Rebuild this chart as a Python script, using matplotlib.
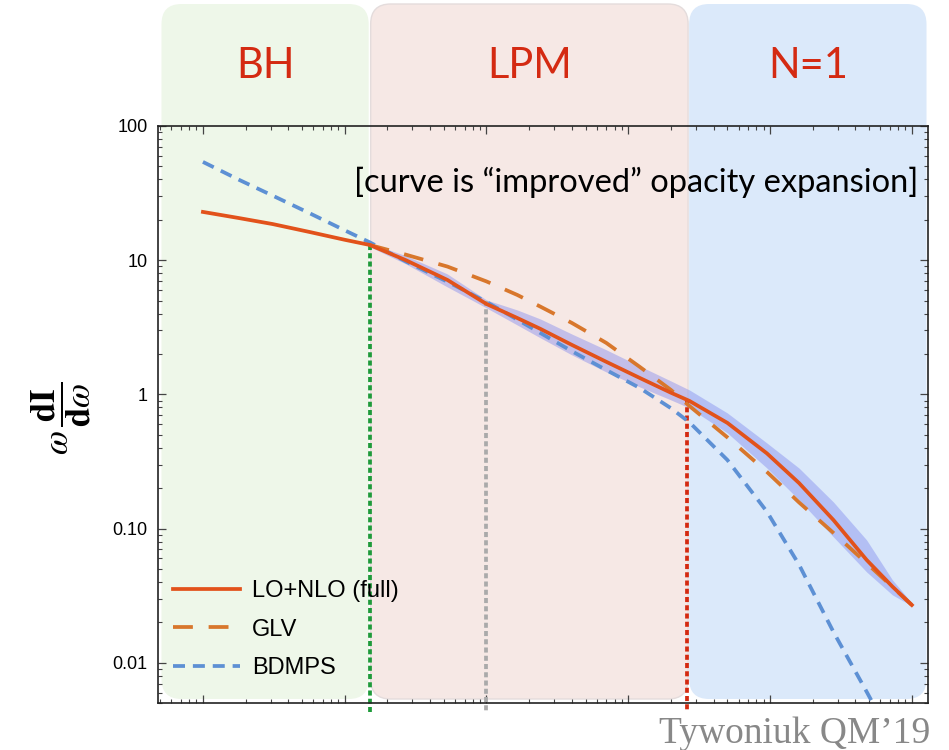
import numpy as np
import matplotlib
matplotlib.use('Agg')
import matplotlib.pyplot as plt
from matplotlib.patches import FancyBboxPatch
from matplotlib.transforms import IdentityTransform
from matplotlib.ticker import LogLocator, FixedLocator, FixedFormatter, NullFormatter

# gluon energy grid (log axis, no labels in the original)
omega = [1, 1.8, 3.1, 5.7, 10, 15, 27, 53, 100, 165, 240, 400, 700, 1200,
         2000, 2700, 5000, 9500, 16000, 28000, 48000, 73000, 100000]

# LO+NLO (full)
full = [22.9, 20.6, 18.6, 16.2, 14.2, 13.0, 10.0, 7.13, 4.72, 3.71, 3.08, 2.34,
        1.75, 1.33, 1.03, 0.895, 0.614, 0.364, 0.219, 0.116, 0.0585, 0.037, 0.027]

# BDMPS (up to 73000)
bdmps = [54, 39.7, 30.3, 22.3, 16.7, 13.6, 9.78, 6.92, 4.89, 3.61, 2.87, 2.10,
         1.52, 1.12, 0.79, 0.62, 0.325, 0.134, 0.054, 0.017, 0.0061, 0.0027]

# GLV and uncertainty band (from omega = 15 on)
glv = [13.0, 11.0, 8.97, 6.95, 5.51, 4.51, 3.41, 2.42, 1.61, 1.08, 0.82, 0.479,
       0.265, 0.157, 0.093, 0.0553, 0.0368, 0.027]
band_hi = [13.4, 10.8, 7.90, 5.06, 4.26, 3.65, 2.82, 2.15, 1.63, 1.26, 1.08, 0.728,
           0.435, 0.283, 0.158, 0.0824, 0.0415, 0.028]
band_lo = [12.6, 9.38, 6.32, 4.41, 3.29, 2.64, 1.97, 1.47, 1.14, 0.91, 0.793, 0.517,
           0.283, 0.164, 0.0868, 0.0476, 0.0321, 0.0266]

# vertical markers between regimes
marker_omega = [15, 100, 2600]
marker_top = [13.0, 5.0, 0.93]
marker_colors = ['#1e9a3a', '#aaaaaa', '#d42a10']

regions = ['BH', 'LPM', 'N=1']
region_colors = ['#eef7e9', '#f6e8e5', '#dbe9fa']
region_edges = ['none', '#e4dcdc', 'none']

ytick_vals = [0.01, 0.1, 1, 10, 100]
ytick_labels = ['0.01', '0.10', '1', '10', '100']

plt.rcParams['mathtext.fontset'] = 'stix'

W, H = 949, 750
LW = 2.7
fig = plt.figure(figsize=(W / 100, H / 100), dpi=100)
ax = fig.add_axes([157.5 / W, 46.7 / H, 770 / W, 577.3 / H])
ax.set_facecolor('none')
ax.set_xscale('log')
ax.set_yscale('log')
ax.set_xlim(0.478, 1.29e5)
ax.set_ylim(0.005, 100)

ax.fill_between(omega[5:], band_lo, band_hi, color='#7d86ee', alpha=0.42, lw=0, zorder=2)
for x, top, c in zip(marker_omega, marker_top, marker_colors):
    ax.plot([x, x], [top, 0.0043], color=c, lw=LW, ls=(0, (1.35, 0.85)),
            clip_on=False, zorder=2.5)
ax.plot(omega[:22], bdmps, color='#5d90d4', lw=LW, ls=(0, (3.2, 2.1)),
        zorder=3, label='BDMPS')
ax.plot(omega[5:], glv, color='#d8772c', lw=LW, ls=(0, (5.3, 4.2)), zorder=4, label='GLV')
ax.plot(omega, full, color='#e2521b', lw=LW, zorder=5, label='LO+NLO (full)')

# axes styling
for s in ax.spines.values():
    s.set_color('#222222')
    s.set_linewidth(1.2)
ax.tick_params(which='both', direction='in', top=True, right=True, color='#444444')
ax.tick_params(which='major', length=6, width=0.9)
ax.tick_params(which='minor', length=3, width=0.8)
ax.xaxis.set_major_locator(LogLocator(base=10, numticks=20))
ax.xaxis.set_minor_locator(LogLocator(base=10, subs=np.arange(2, 10), numticks=20))
ax.xaxis.set_major_formatter(NullFormatter())
ax.xaxis.set_minor_formatter(NullFormatter())
ax.yaxis.set_major_locator(FixedLocator(ytick_vals))
ax.yaxis.set_major_formatter(FixedFormatter(ytick_labels))
ax.yaxis.set_minor_locator(LogLocator(base=10, subs=np.arange(2, 10), numticks=20))
ax.yaxis.set_minor_formatter(NullFormatter())
for lab in ax.get_yticklabels():
    lab.set_fontfamily('Liberation Sans')
    lab.set_fontsize(13)
ax.tick_params(axis='y', pad=7)

handles, labels = ax.get_legend_handles_labels()
leg = ax.legend(handles[::-1], labels[::-1], loc='upper left',
                bbox_to_anchor=(173 / W, 1 - 580 / H), bbox_transform=fig.transFigure,
                frameon=False, borderpad=0, borderaxespad=0, handlelength=2.85,
                handletextpad=0.5, labelspacing=0.7,
                prop={'family': 'Liberation Sans', 'size': 17})

# regime boxes behind the axes
ax_x0 = ax.transData.transform((0.478, 1))[0]
ax_x1 = ax.transData.transform((1.29e5, 1))[0]
b1 = ax.transData.transform((marker_omega[0], 1))[0]
b2 = ax.transData.transform((marker_omega[2], 1))[0]
edges = [(ax_x0 + 4, b1 - 1), (b1 + 1, b2 + 1), (b2 + 2, ax_x1 - 1)]
y0, y1 = H - 699, H - 4
for (x0, x1), name, fc, ec in zip(edges, regions, region_colors, region_edges):
    box = FancyBboxPatch((x0, y0), x1 - x0, y1 - y0,
                         boxstyle='round,pad=0,rounding_size=20',
                         transform=IdentityTransform(), facecolor=fc,
                         edgecolor=ec, lw=1, zorder=-1)
    fig.add_artist(box)
    fig.text((x0 + x1) / 2 / W, 1 - 66 / H, name, ha='center', va='center',
             color='#d42a12', fontsize=30, family='Lato')

fig.text(918 / W, 1 - 182 / H, '[curve is \u201cimproved\u201d opacity expansion]',
         ha='right', va='center', fontsize=23.5, family='Lato', color='black')
fig.text(61 / W, 1 - 418 / H, r'$\omega\,\dfrac{\mathbf{dI}}{\mathbf{d}\omega}$',
         rotation=90, ha='center', va='center', fontsize=25)
fig.text(930 / W, 1 - 743 / H, 'Tywoniuk QM\u201919', ha='right', va='baseline',
         fontsize=27, family='Liberation Serif', color='#888888')

fig.savefig('out.png', dpi=100)
